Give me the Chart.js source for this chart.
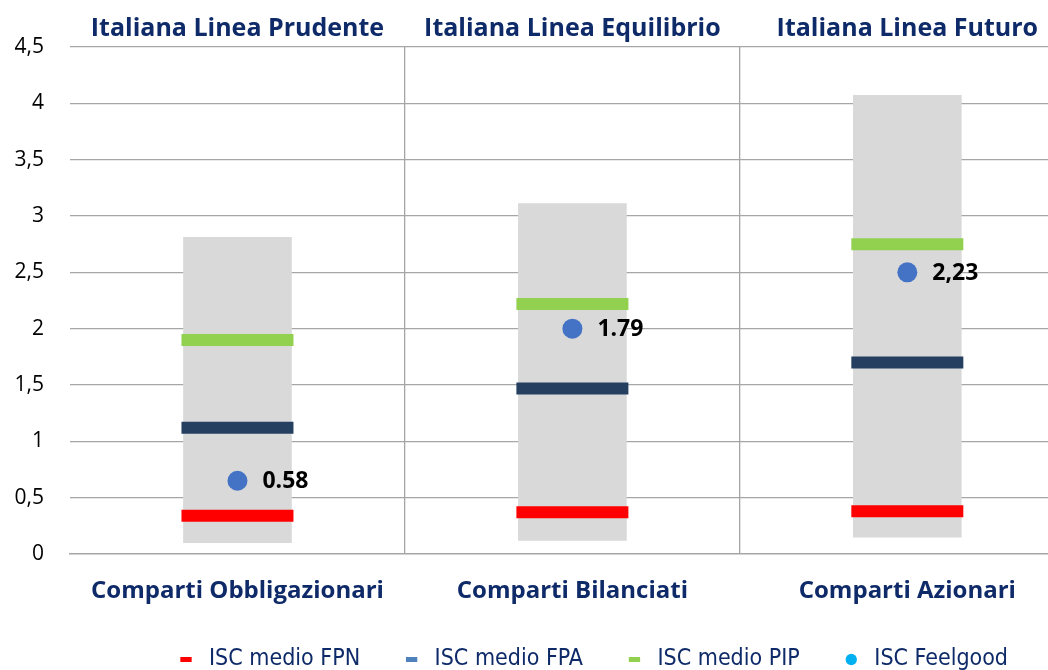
<!DOCTYPE html>
<html>
<head>
<meta charset="utf-8">
<script src="https://cdn.jsdelivr.net/npm/chart.js@4"></script>
<style>
  html, body { margin: 0; padding: 0; background: #fff; overflow: hidden; }
  #wrap { position: relative; width: 1048px; height: 670px; }
</style>
</head>
<body>
<div id="wrap"><canvas id="chart-isc"></canvas></div>
<script>
const categories   = ['Comparti Obbligazionari', 'Comparti Bilanciati', 'Comparti Azionari'];
const lineNames    = ['Italiana Linea Prudente', 'Italiana Linea Equilibrio', 'Italiana Linea Futuro'];
const rangeLow     = [0.10, 0.12, 0.15];
const rangeHigh    = [2.81, 3.11, 4.07];
const iscFPN       = [0.34, 0.37, 0.38];
const iscFPA       = [1.12, 1.47, 1.70];
const iscPIP       = [1.90, 2.22, 2.75];
const iscFeelgood  = [0.65, 2.00, 2.50];
const feelLabels   = ['0.58', '1.79', '2,23'];
const yTicks       = [0, 0.5, 1, 1.5, 2, 2.5, 3, 3.5, 4, 4.5];
const legendNames  = ['ISC medio FPN', 'ISC medio FPA', 'ISC medio PIP', 'ISC Feelgood'];
const legendColors = ['#ff0000', '#4f81bd', '#92d050', '#00b0f0'];

const NAVY = '#0e2a68';
const FONT = "'Open Sans', sans-serif";

const pts = vals => vals.map((v, i) => ({ x: i, y: v }));

const markerSet = (label, vals, color) => ({
  type: 'line',
  label,
  data: pts(vals),
  showLine: false,
  pointStyle: 'line',
  pointRadius: 56,
  pointHoverRadius: 56,
  pointBorderWidth: 12,
  pointHoverBorderWidth: 12,
  pointBorderColor: color,
  pointBackgroundColor: color,
  borderColor: color,
});

// no auto padding for long tick labels, keeps the plot area fixed
const noPadX = s => { s.paddingLeft = 0; s.paddingRight = 0; };

// writes the Feelgood values next to the dots
const dotLabels = {
  id: 'dotLabels',
  afterDatasetsDraw(chart) {
    const meta = chart.getDatasetMeta(0);
    const ctx = chart.ctx;
    ctx.save();
    ctx.font = "bold 23px " + FONT;
    ctx.fillStyle = '#000';
    ctx.textBaseline = 'middle';
    meta.data.forEach((pt, i) => {
      ctx.fillText(feelLabels[i], pt.x + 25, pt.y + 1);
    });
    ctx.restore();
  }
};

const ctx = document.getElementById('chart-isc').getContext('2d');
new Chart(ctx, {
  type: 'bar',
  data: {
    datasets: [
      {
        type: 'line',
        label: 'ISC Feelgood',
        data: pts(iscFeelgood),
        showLine: false,
        pointStyle: 'circle',
        pointRadius: 10,
        pointHoverRadius: 10,
        pointBorderWidth: 0,
        pointBackgroundColor: '#4472c4',
        borderColor: '#4472c4',
      },
      markerSet('ISC medio PIP', iscPIP, '#92d050'),
      markerSet('ISC medio FPA', iscFPA, '#243f60'),
      markerSet('ISC medio FPN', iscFPN, '#ff0000'),
      {
        label: 'range',
        data: rangeLow.map((lo, i) => ({ x: i, y: [lo, rangeHigh[i]] })),
        backgroundColor: '#d9d9d9',
        barThickness: 108,
        order: 10,
      },
    ],
  },
  options: {
    responsive: true,
    maintainAspectRatio: false,
    animation: false,
    layout: { autoPadding: false, padding: { left: 0, right: 0, top: 0, bottom: -11 } },
    plugins: {
      legend: {
        position: 'bottom',
        align: 'end',
        labels: {
          usePointStyle: true,
          boxHeight: 8,
          padding: 40,
          color: NAVY,
          font: { family: "'Liberation Sans Narrow', 'DejaVu Sans Condensed', sans-serif", size: 23 },
          generateLabels: () => legendNames.map((name, i) => ({
            text: name,
            fillStyle: legendColors[i],
            strokeStyle: legendColors[i],
            lineWidth: i === 3 ? 0 : 5,
            pointStyle: i === 3 ? 'circle' : 'line',
            fontColor: NAVY,
            hidden: false,
            datasetIndex: i,
          })),
        },
      },
      tooltip: { enabled: false },
    },
    scales: {
      x: {
        type: 'linear',
        offset: false,
        min: -0.5,
        max: 2.42,
        afterBuildTicks: s => { s.ticks = [0, 0.5, 1, 1.5, 2].map(v => ({ value: v })); },
        afterFit: s => { s.height = 54; noPadX(s); },
        grid: {
          offset: false,
          drawTicks: false,
          color: c => (c.tick && c.tick.value % 1 !== 0) ? '#a6a6a6' : 'rgba(0,0,0,0)',
          lineWidth: 1.3,
        },
        border: { display: true, color: '#a6a6a6', width: 1.5 },
        ticks: {
          autoSkip: false,
          maxRotation: 0,
          minRotation: 0,
          padding: 24,
          color: NAVY,
          font: { family: FONT, size: 24, weight: 'bold', lineHeight: 1.1 },
          callback: v => v % 1 === 0 ? categories[v] : '',
        },
      },
      x2: {
        type: 'linear',
        position: 'top',
        offset: false,
        min: -0.5,
        max: 2.42,
        afterBuildTicks: s => { s.ticks = [0, 1, 2].map(v => ({ value: v })); },
        afterFit: s => { s.height = 47; noPadX(s); },
        grid: { display: false, drawTicks: false, offset: false },
        border: { display: false },
        ticks: {
          autoSkip: false,
          maxRotation: 0,
          minRotation: 0,
          padding: 3,
          color: NAVY,
          font: { family: FONT, size: 25, weight: 'bold' },
          callback: v => lineNames[v],
        },
      },
      y: {
        min: 0,
        max: 4.5,
        afterBuildTicks: s => { s.ticks = yTicks.map(v => ({ value: v })); },
        afterFit: s => { s.width = 70; s.paddingTop = 0; s.paddingBottom = 0; },
        grid: {
          drawTicks: false,
          color: c => c.tick && c.tick.value === 0 ? 'rgba(0,0,0,0)' : '#a6a6a6',
          lineWidth: 1.3,
        },
        border: { display: false },
        ticks: {
          padding: 26,
          color: '#000',
          font: { family: FONT, size: 21 },
          callback: v => String(v).replace('.', ','),
        },
      },
    },
  },
  plugins: [dotLabels],
});
</script>
</body>
</html>
